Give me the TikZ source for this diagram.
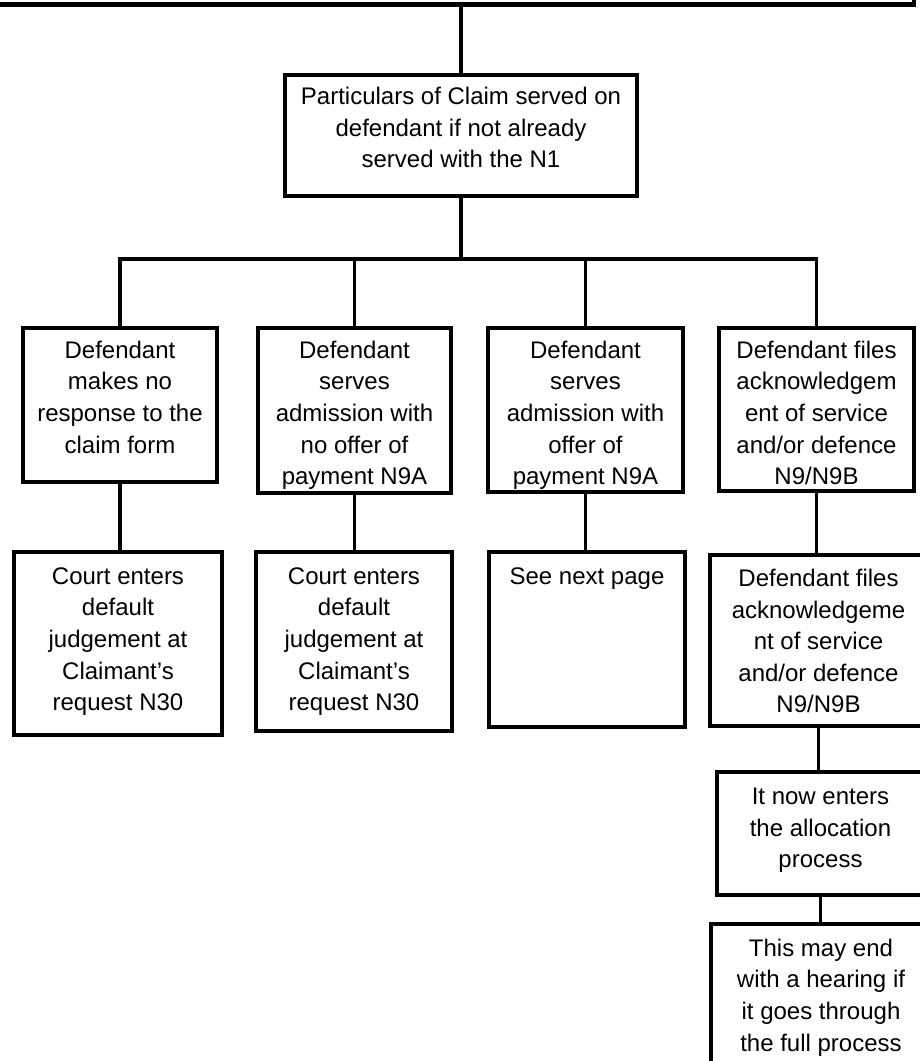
\documentclass[tikz,border=0pt]{standalone}
\usepackage{fontspec}
\setmainfont{Liberation Sans}
\usetikzlibrary{positioning}

% box text sits at the top of the box
\newcommand{\boxtext}[4][4pt]{\parbox[c][#3][t]{#2}{\centering\vspace{#1}\strut #4\par}}

\begin{document}
\begin{tikzpicture}[x=0.5pt, y=-0.5pt,
    box/.style={draw, line width=2.2pt, inner sep=0pt, anchor=north},
    link/.style={line width=1.7pt},
    every node/.style={font=\fontsize{12}{15.8}\selectfont}]
  \clip (0,0) rectangle (920,1061);
  \node [box, anchor=south east, minimum width=500pt, minimum height=60pt] (top) at (916,6.5) {};
  \node [box] (part) at (461,73)   {\boxtext[3.6pt]{176pt}{60.5pt}{Particulars of Claim served on\\ defendant if not already\\ served with the N1}};
  % first row
  \node [box] (d1) at (120,326)    {\boxtext{97pt}{77pt}{Defendant\\ makes no\\ response to the\\ claim form}};
  \node [box] (d2) at (354.5,326)  {\boxtext{96.5pt}{82.5pt}{Defendant\\ serves\\ admission with\\ no offer of\\ payment N9A}};
  \node [box] (d3) at (585.5,326)  {\boxtext{97.5pt}{82pt}{Defendant\\ serves\\ admission with\\ offer of\\ payment N9A}};
  \node [box] (d4) at (816.5,326)  {\boxtext{97.5pt}{81.5pt}{Defendant files\\ acknowledgem\\ ent of service\\ and/or defence\\ N9/N9B}};
  % second row
  \node [box] (c1) at (118,550)    {\boxtext[5pt]{104pt}{91.5pt}{Court enters\\ default\\ judgement at\\ Claimant’s\\ request N30}};
  \node [box] (c2) at (354,550)    {\boxtext[5pt]{98pt}{89.5pt}{Court enters\\ default\\ judgement at\\ Claimant’s\\ request N30}};
  \node [box] (next) at (587,550)  {\boxtext[5pt]{98pt}{87.5pt}{See next page}};
  \node [box] (ack) at (818.5,553) {\boxtext[4.6pt]{108.5pt}{85.5pt}{Defendant files\\ acknowledgeme\\ nt of service\\ and/or defence\\ N9/N9B}};
  % right column
  \node [box] (alloc) at (820.5,770) {\boxtext[5.2pt]{103.5pt}{61.5pt}{It now enters\\ the allocation\\ process}};
  \node [box] (hear) at (821,922)  {\boxtext[5pt]{110pt}{85pt}{This may end\\ with a hearing if\\ it goes through\\ the full process}};

  \coordinate (bar) at (461,259);
  \draw [link] (part.north) -- (part.north |- top.south);
  \draw [link] (part.south) -- (bar);
  \foreach \n in {d1,d2,d3,d4}
    \draw [link] (bar) -| (\n.north);
  \draw [link] (d1.south) -- (d1.south |- c1.north);
  \draw [link] (d2.south) -- (d2.south |- c2.north);
  \draw [link] (d3.south) -- (d3.south |- next.north);
  \draw [link] (d4.south) -- (d4.south |- ack.north);
  \draw [link] (ack.south) -- (ack.south |- alloc.north);
  \draw [link] (alloc.south) -- (alloc.south |- hear.north);
\end{tikzpicture}
\end{document}
